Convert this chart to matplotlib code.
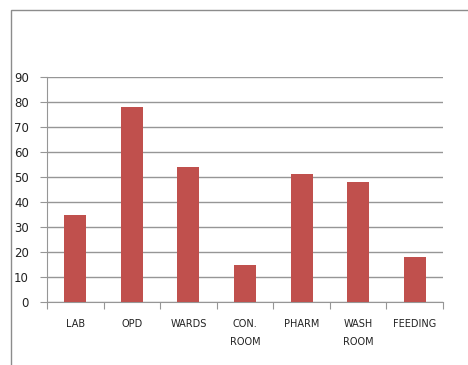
import matplotlib.pyplot as plt
import numpy as np
from matplotlib.patches import Rectangle

categories = ["LAB", "OPD", "WARDS", "CON.\nROOM", "PHARM", "WASH\nROOM", "FEEDING"]
values = [35, 78, 54, 14.8, 51.3, 48.2, 18]
y_ticks = [0, 10, 20, 30, 40, 50, 60, 70, 80, 90]

bar_color = '#C0504D'
grid_color = '#969696'

fig = plt.figure(figsize=(4.68, 3.65), dpi=100)
W, H = 468.0, 365.0

# chart area border
fig.patches.append(Rectangle((11 / W, -0.1), 1.2, (H - 10) / H + 0.1, transform=fig.transFigure,
                             fill=False, edgecolor='#8C8C8C', linewidth=1.0))

left, right, top, bottom = 47, 443, 77, 302
ax = fig.add_axes([left / W, 1 - bottom / H, (right - left) / W, (bottom - top) / H])

x = np.arange(len(categories))
ax.bar(x, values, width=0.39, color=bar_color, zorder=3)

ax.set_xlim(-0.5, len(categories) - 0.5)
ax.set_ylim(0, 90)
ax.set_yticks(y_ticks)
ax.set_yticklabels([str(t) for t in y_ticks], fontsize=8.5, color='#222222')
ax.yaxis.grid(True, color=grid_color, linewidth=1.0, zorder=0)

ax.set_xticks(np.arange(len(categories) + 1) - 0.5)
ax.set_xticklabels([])
ax.set_xticks(x, minor=True)
ax.set_xticklabels(categories, minor=True, fontsize=7, linespacing=2.1, va='top', color='#222222')
ax.tick_params(axis='x', which='minor', length=0, pad=12)
ax.tick_params(axis='x', which='major', length=5, color=grid_color, direction='out')
ax.tick_params(axis='y', length=5, color=grid_color, pad=8)

for side in ['top', 'right']:
    ax.spines[side].set_visible(False)
for side in ['left', 'bottom']:
    ax.spines[side].set_color(grid_color)

fig.savefig('out.png', dpi=100)
